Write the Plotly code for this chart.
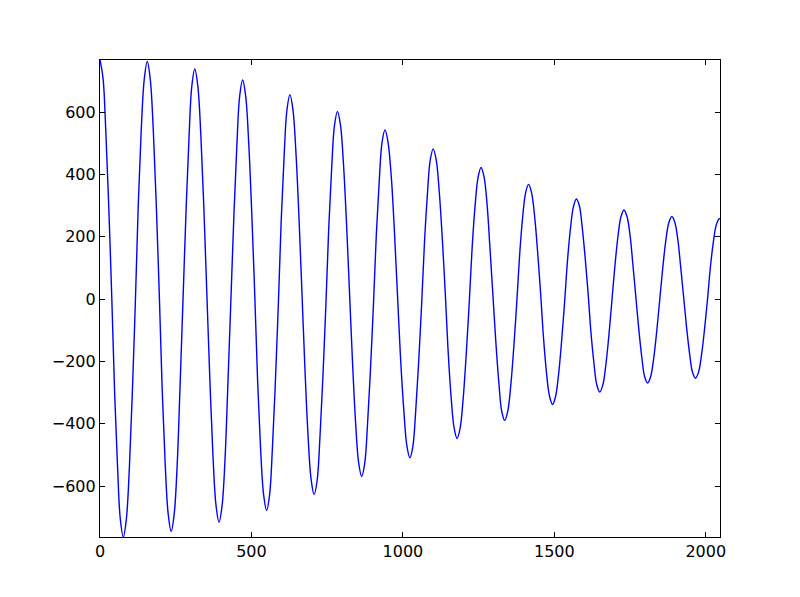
import plotly.graph_objects as go

# Points of the trace (extrema and intermediate points of each swing)
x_vals = [0, 10, 19, 29, 39, 48, 58, 67,
          77, 87, 97, 107, 117, 126, 136, 146,
          156, 166, 176, 186, 196, 205, 215, 225,
          235, 245, 255, 264, 274, 284, 294, 303,
          313, 323, 333, 343, 353, 363, 373, 383,
          393, 403, 413, 422, 432, 442, 452, 461,
          471, 481, 491, 501, 511, 520, 530, 540,
          550, 560, 569, 579, 589, 598, 608, 617,
          627, 637, 647, 657, 667, 677, 687, 697,
          707, 717, 726, 736, 746, 755, 765, 774,
          784, 794, 804, 814, 824, 834, 844, 854,
          864, 874, 883, 893, 903, 912, 922, 931,
          941, 951, 962, 972, 982, 992, 1003, 1013,
          1023, 1033, 1042, 1052, 1062, 1071, 1081, 1090,
          1100, 1110, 1120, 1130, 1140, 1149, 1159, 1169,
          1179, 1189, 1199, 1209, 1219, 1228, 1238, 1248,
          1258, 1268, 1278, 1287, 1297, 1307, 1317, 1326,
          1336, 1346, 1356, 1366, 1376, 1385, 1395, 1405,
          1415, 1425, 1435, 1445, 1455, 1464, 1474, 1484,
          1494, 1504, 1514, 1524, 1534, 1543, 1553, 1563,
          1573, 1583, 1592, 1602, 1612, 1621, 1631, 1640,
          1650, 1660, 1670, 1680, 1690, 1700, 1710, 1720,
          1730, 1740, 1750, 1759, 1769, 1779, 1789, 1798,
          1808, 1818, 1828, 1838, 1848, 1858, 1868, 1878,
          1888, 1898, 1908, 1917, 1927, 1937, 1947, 1956,
          1966, 1976, 1986, 1996, 2006, 2015, 2025, 2035,
          2045, 2047]
y_vals = [767, 709, 543, 295, 2, -291, -539, -705,
          -763, -706, -540, -293, -1, 292, 539, 704,
          762, 705, 541, 297, 8, -280, -524, -688,
          -745, -689, -528, -288, -4, 281, 521, 682,
          738, 683, 525, 289, 11, -267, -503, -661,
          -716, -663, -509, -279, -7, 266, 496, 650,
          703, 651, 501, 277, 13, -252, -476, -626,
          -678, -627, -483, -266, -11, 244, 461, 605,
          656, 608, 469, 261, 15, -232, -440, -578,
          -627, -581, -447, -248, -13, 223, 422, 556,
          602, 558, 431, 241, 17, -208, -398, -525,
          -569, -527, -406, -226, -13, 200, 380, 501,
          543, 503, 389, 218, 17, -184, -355, -469,
          -509, -472, -364, -204, -14, 176, 337, 444,
          482, 447, 346, 196, 18, -161, -311, -412,
          -447, -414, -320, -179, -13, 154, 295, 389,
          422, 392, 304, 172, 17, -139, -270, -358,
          -389, -361, -279, -156, -11, 135, 258, 340,
          368, 341, 265, 150, 15, -120, -235, -311,
          -338, -313, -242, -135, -9, 118, 224, 296,
          321, 298, 231, 131, 12, -107, -207, -274,
          -298, -276, -212, -118, -6, 106, 200, 264,
          286, 265, 205, 115, 9, -98, -188, -248,
          -269, -249, -191, -104, -2, 100, 187, 245,
          265, 246, 189, 105, 6, -94, -178, -234,
          -254, -235, -179, -96, 2, 100, 183, 239,
          258, 258]

x_ticks = [0, 500, 1000, 1500, 2000]
x_labels = ["0", "500", "1000", "1500", "2000"]
y_ticks = [-600, -400, -200, 0, 200, 400, 600]
y_labels = ["\u2212600", "\u2212400", "\u2212200", "0", "200", "400", "600"]

fig = go.Figure()
fig.add_trace(go.Scatter(
    x=x_vals, y=y_vals, mode="lines",
    line=dict(color="#0000ff", width=1.4, shape="spline", smoothing=1.0),
    showlegend=False, hoverinfo="skip",
))

axis_common = dict(
    showline=True, linecolor="black", linewidth=1.2, mirror="ticks",
    ticks="inside", ticklen=5, tickwidth=1, tickcolor="black",
    showgrid=False, zeroline=False,
    tickfont=dict(family="DejaVu Sans", size=16, color="black"),
)

fig.update_layout(
    width=800, height=597,
    margin=dict(l=92, r=88, t=52, b=68),
    paper_bgcolor="white", plot_bgcolor="white",
    xaxis=dict(range=[0, 2047], tickvals=x_ticks, ticktext=x_labels, **axis_common),
    yaxis=dict(range=[-763, 767], tickvals=y_ticks, ticktext=y_labels, **axis_common),
)

fig.write_html("out.html")
